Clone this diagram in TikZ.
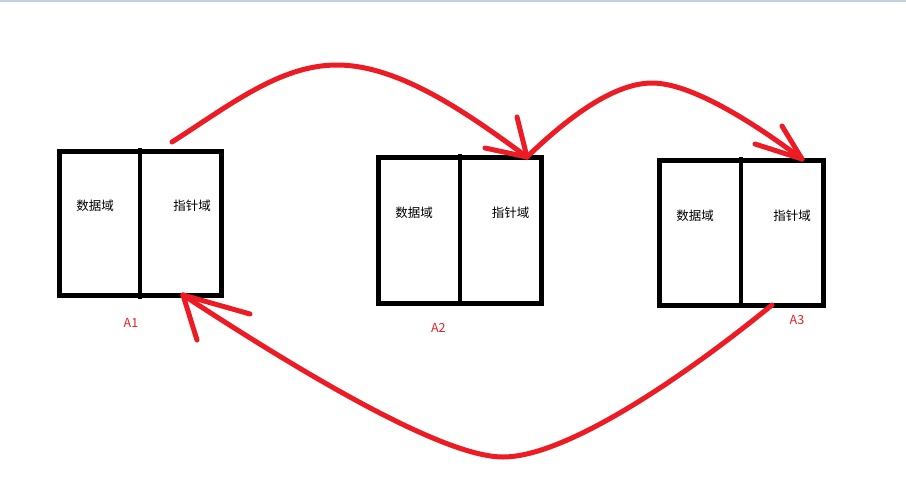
\documentclass[tikz,border=0pt]{standalone}
\usepackage{fontspec}
\newfontfamily\cjk{Noto Sans CJK SC}
\definecolor{paintred}{RGB}{237,28,36}
\definecolor{topline}{RGB}{197,208,224}
\begin{document}
\begin{tikzpicture}[x=1pt,y=-1pt,
  box/.style={draw=black,line width=5pt,inner sep=0pt,outer sep=0pt,rectangle},
  divider/.style={draw=black,line width=4pt},
  field/.style={font=\cjk\fontsize{12.5}{14}\selectfont,text=black,inner sep=0pt},
  tag/.style={font=\cjk\fontsize{12.5}{14}\selectfont,text=paintred,inner sep=0pt},
  stroke/.style={draw=paintred,line width=5pt,line cap=round,line join=round}]
\useasboundingbox (0,0) rectangle (906,491);
\fill[topline] (0,0) rectangle (906,1.5);
% boxes
\node[box,minimum width=162.5pt,minimum height=144.5pt] (A1) at (140.25,223.25) {};
\node[box,minimum width=162.7pt,minimum height=146pt] (A2) at (459.65,230.3) {};
\node[box,minimum width=164pt,minimum height=145pt] (A3) at (741,232.5) {};
\foreach \b in {A1,A2,A3}
  \draw[divider] ([yshift=3pt]\b.north) -- ([yshift=-3pt]\b.south);
% field texts
\node[field] (A1d) at (95,206) {数据域};
\node[field] (A1p) at (192,206) {指针域};
\node[field] (A2d) at (414,212.7) {数据域};
\node[field] (A2p) at (510.7,212.7) {指针域};
\node[field] (A3d) at (695,216) {数据域};
\node[field] (A3p) at (792,216) {指针域};
% labels
\node[tag] (L1) at (131,323) {A1};
\node[tag] (L2) at (438.3,328.3) {A2};
\node[tag] (L3) at (797,320) {A3};
% connector points
\coordinate (s1) at (172,142);
\coordinate (t2) at (527,157);
\coordinate (t3) at (802,159);
\coordinate (s3) at (772,305);
\coordinate (t1) at (183,295);
\coordinate (pk1) at (337,65);
\coordinate (pk2) at (652,83);
\coordinate (bt) at (503,457);
% arrow A1 -> A2
\draw[stroke] (s1) .. controls (230,105) and (280,65) .. (pk1)
  .. controls (400,65) and (470,115) .. (t2);
\coordinate (h1a) at (485,148);
\coordinate (h1b) at (517,117);
\draw[stroke] (h1a) -- (t2);
\draw[stroke] (h1b) -- (t2);
% arrow A2 -> A3
\draw[stroke] (t2) .. controls (560,125) and (610,83) .. (pk2)
  .. controls (690,83) and (750,120) .. (t3);
\coordinate (h2a) at (755,144);
\coordinate (h2b) at (782,126);
\draw[stroke] (h2a) -- (t3);
\draw[stroke] (h2b) -- (t3);
% arrow A3 -> A1
\draw[stroke] (s3) .. controls (680,380) and (565,457) .. (bt)
  .. controls (440,457) and (290,365) .. (t1);
\coordinate (h3a) at (250,314);
\coordinate (h3b) at (197,340);
\draw[stroke] (h3a) -- (t1);
\draw[stroke] (h3b) -- (t1);
\end{tikzpicture}
\end{document}
